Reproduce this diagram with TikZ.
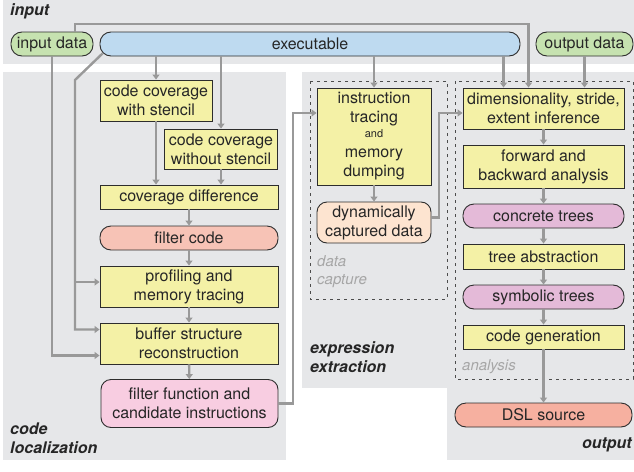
\documentclass[tikz,border=0pt]{standalone}
\usepackage{fontspec}
\setmainfont{TeX Gyre Heros}
\usetikzlibrary{arrows.meta}

\definecolor{bggray}{RGB}{230,231,233}
\definecolor{boxyellow}{RGB}{244,241,166}
\definecolor{boxblue}{RGB}{190,218,240}
\definecolor{boxgreen}{RGB}{198,226,176}
\definecolor{boxsalmon}{RGB}{247,195,182}
\definecolor{boxdsl}{RGB}{246,176,160}
\definecolor{boxpink}{RGB}{248,205,225}
\definecolor{boxpeach}{RGB}{253,228,208}
\definecolor{boxpurple}{RGB}{228,186,216}
\definecolor{conngray}{RGB}{153,153,153}
\definecolor{edgegray}{RGB}{45,45,45}

\begin{document}
\begin{tikzpicture}[
  x=1pt, y=-1pt,
  font=\fontsize{16}{19}\selectfont,
  stepbox/.style={draw=edgegray, line width=0.9pt, fill=boxyellow,
    inner sep=0pt, align=center, text=black!85},
  pill/.style={stepbox, rounded corners=11pt},
  conn/.style={draw=conngray, line width=2.4pt,
    -{Triangle[width=7pt,length=5pt]}},
  grp/.style={font=\fontsize{16}{19}\selectfont\bfseries\itshape,
    inner sep=0pt, align=left, text=black!85},
  sub/.style={font=\fontsize{15}{18}\selectfont\itshape,
    inner sep=0pt, align=left, text=black!35},
  frame/.style={draw=black!70, line width=0.8pt,
    dash pattern=on 3pt off 4pt}]

  \useasboundingbox (0,0) rectangle (634,471);

  % grey regions
  \fill[bggray] (3,0) rectangle (634,64);
  \fill[bggray] (3,72) rectangle (286,460);
  \fill[bggray] (302,72) rectangle (634,388);
  \fill[bggray] (447,388) rectangle (634,460);
  \draw[frame] (310,81) rectangle (447,299);
  \draw[frame] (455,81) rectangle (633,379);

  \node[grp, anchor=base west] (lblin) at (10,16) {input};
  \node[grp, anchor=base west] (lblloc) at (10,453) {code\\localization};
  \node[grp, anchor=base west] (lblexp) at (310,372) {expression\\extraction};
  \node[grp, anchor=base east] (lblout) at (632,448) {output};
  \node[sub, anchor=base west] (lblcap) at (317,284) {data\\capture};
  \node[sub, anchor=base west] (lblana) at (462,370) {analysis};

  % inputs
  \node[pill, fill=boxgreen, minimum width=82, minimum height=24] (inp) at (52,44) {input data};
  \node[pill, fill=boxblue, minimum width=420, minimum height=24] (exe) at (310,44) {executable};
  \node[pill, fill=boxgreen, minimum width=97, minimum height=24] (outp) at (584.5,44) {output data};

  % code localization
  \node[stepbox, minimum width=112, minimum height=41] (cwith) at (156,100.5) {code coverage\\with stencil};
  \node[stepbox, minimum width=113, minimum height=40] (cwo) at (221,149) {code coverage\\without stencil};
  \node[stepbox, minimum width=178, minimum height=24] (cdiff) at (189,197) {coverage difference};
  \node[pill, fill=boxsalmon, minimum width=178, minimum height=24] (fcode) at (189,238) {filter code};
  \node[stepbox, minimum width=178, minimum height=41] (prof) at (189,286.5) {profiling and\\memory tracing};
  \node[stepbox, minimum width=178, minimum height=41] (buf) at (189,343.5) {buffer structure\\reconstruction};
  \node[pill, fill=boxpink, rounded corners=10pt, minimum width=177, minimum height=48] (ffun) at (189.5,403.5) {filter function and\\candidate instructions};

  % data capture
  \node[stepbox, minimum width=114, minimum height=97] (itrace) at (374,136.5)
    {instruction\\tracing\\[-4pt]{\fontsize{11}{11}\selectfont and}\\[1pt]memory\\dumping};
  \node[pill, fill=boxpeach, rounded corners=10pt, minimum width=114, minimum height=41] (dyn) at (374,222.5) {dynamically\\captured data};

  % analysis
  \node[stepbox, minimum width=161, minimum height=41] (dim) at (543.5,108.5) {dimensionality, stride,\\extent inference};
  \node[stepbox, minimum width=161, minimum height=43] (fwd) at (543.5,166.5) {forward and\\backward analysis};
  \node[pill, fill=boxpurple, minimum width=161, minimum height=24] (ctree) at (543.5,216) {concrete trees};
  \node[stepbox, minimum width=161, minimum height=25] (tabs) at (543.5,256.5) {tree abstraction};
  \node[pill, fill=boxpurple, minimum width=161, minimum height=24] (stree) at (543.5,297) {symbolic trees};
  \node[stepbox, minimum width=161, minimum height=24] (cgen) at (543.5,337) {code generation};
  \node[pill, fill=boxdsl, minimum width=177, minimum height=24] (dsl) at (543.5,415) {DSL source};

  \coordinate (bend) at (75,80);
  \coordinate (topl) at (75,24);
  \coordinate (jog1) at (293,113);
  \coordinate (jog2) at (439,113);

  % connectors
  \draw[conn] (exe.south -| cwith.north) -- (cwith.north);
  \draw[conn] (exe.south -| cwo.north) -- (cwo.north);
  \draw[conn] (cwith.south) -- (cwith.south |- cdiff.north);
  \draw[conn] (cwo.south) -- (cwo.south |- cdiff.north);
  \draw[conn] (cdiff) -- (fcode);
  \draw[conn] (fcode) -- (prof);
  \draw[conn] (prof) -- (buf);
  \draw[conn] (buf) -- (ffun);
  \draw[conn] ([shift={(3,-3)}]exe.south west) -- (bend) |- ([shift={(0,-14)}]buf.west);
  \draw[conn] (bend |- 0,282) -- ([shift={(0,-4.5)}]prof.west);
  \draw[conn] (inp.south) |- ([shift={(0,12)}]buf.west);
  \draw[conn] (inp.north -| topl) -- (topl) -| ([shift={(-15,0)}]dim.north);
  \draw[conn] (exe.south -| itrace.north) -- (itrace.north);
  \draw[conn] (exe.south -| 503.5,0) -- ([shift={(-40,0)}]dim.north);
  \draw[conn] (outp.south) -- (outp.south |- dim.north);
  \draw[conn] (ffun.east) -| (jog1) -- (jog1 -| itrace.west);
  \draw[conn] (itrace) -- (dyn);
  \draw[conn] ([shift={(0,-5)}]dyn.east) -| (jog2) -- (jog2 -| dim.west);
  \draw[conn] (dim) -- (fwd);
  \draw[conn] (fwd) -- (ctree);
  \draw[conn] (ctree) -- (tabs);
  \draw[conn] (tabs) -- (stree);
  \draw[conn] (stree) -- (cgen);
  \draw[conn] (cgen) -- (dsl);
\end{tikzpicture}
\end{document}
